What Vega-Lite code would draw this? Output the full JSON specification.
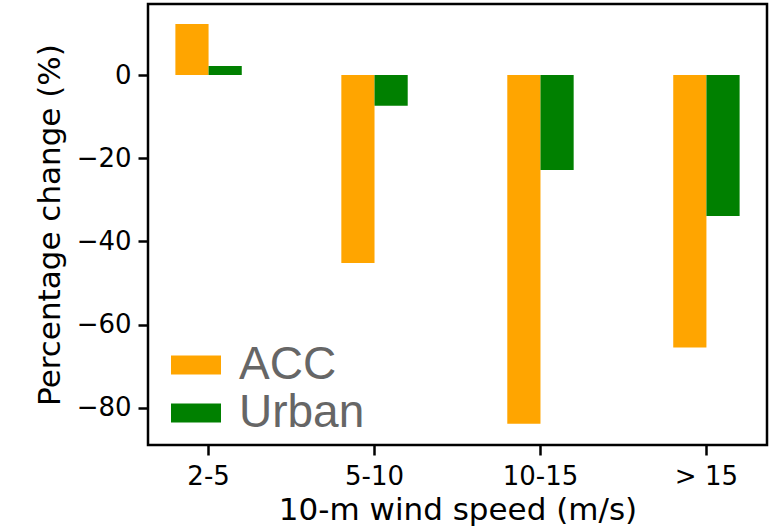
{
  "$schema": "https://vega.github.io/schema/vega-lite/v6.json",
  "width": 619,
  "height": 441,
  "autosize": "none",
  "padding": {"left": 148, "top": 4, "right": 2, "bottom": 85},
  "background": "white",
  "config": {
    "view": {"stroke": "black", "strokeWidth": 2.5},
    "axis": {
      "labelFont": "DejaVu Sans",
      "labelFontSize": 26,
      "labelColor": "black",
      "titleFont": "DejaVu Sans",
      "titleFontSize": 31,
      "titleFontWeight": "normal",
      "titleColor": "black",
      "tickColor": "black",
      "tickWidth": 2.5,
      "tickSize": 10,
      "domain": false,
      "grid": false
    }
  },
  "data": {
    "values": [
      {"wind": "2-5", "scenario": "ACC", "change": 12.25},
      {"wind": "2-5", "scenario": "Urban", "change": 2.16},
      {"wind": "5-10", "scenario": "ACC", "change": -45.2},
      {"wind": "5-10", "scenario": "Urban", "change": -7.4},
      {"wind": "10-15", "scenario": "ACC", "change": -83.8},
      {"wind": "10-15", "scenario": "Urban", "change": -22.8},
      {"wind": "> 15", "scenario": "ACC", "change": -65.5},
      {"wind": "> 15", "scenario": "Urban", "change": -33.9}
    ]
  },
  "mark": {"type": "bar"},
  "encoding": {
    "x": {
      "field": "wind",
      "type": "nominal",
      "sort": ["2-5", "5-10", "10-15", "> 15"],
      "scale": {"paddingInner": 0.6, "paddingOuter": 0.165},
      "axis": {"title": "10-m wind speed (m/s)", "labelAngle": 0, "labelPadding": 8, "titlePadding": 6}
    },
    "xOffset": {
      "field": "scenario",
      "type": "nominal",
      "sort": ["ACC", "Urban"],
      "scale": {"paddingInner": 0, "paddingOuter": 0}
    },
    "y": {
      "field": "change",
      "type": "quantitative",
      "scale": {"domain": [-88.9, 17.06], "nice": false, "zero": false},
      "axis": {"title": "Percentage change (%)", "values": [0, -20, -40, -60, -80], "labelPadding": 7, "titlePadding": 10}
    },
    "color": {
      "field": "scenario",
      "type": "nominal",
      "sort": ["ACC", "Urban"],
      "scale": {"domain": ["ACC", "Urban"], "range": ["#FFA500", "#008000"]},
      "legend": {
        "title": null,
        "orient": "none",
        "legendX": 23,
        "legendY": 336,
        "padding": 0,
        "symbolType": "M-1,-0.38H1V0.38H-1Z",
        "symbolSize": 2500,
        "symbolStrokeWidth": 0,
        "symbolOpacity": 1,
        "labelFont": "Liberation Sans",
        "labelFontSize": 46,
        "labelColor": "#666666",
        "labelOffset": 18,
        "rowPadding": -7,
        "labelLimit": 300
      }
    }
  }
}
